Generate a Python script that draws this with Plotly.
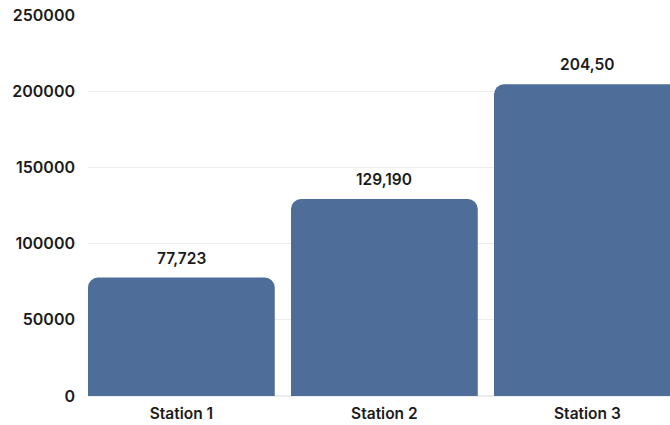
import plotly.graph_objects as go

# Station totals
stations = ["Station 1", "Station 2", "Station 3"]
totals = [77723, 129190, 204500]
total_labels = ["77,723", "129,190", "204,50"]
y_ticks = [0, 50000, 100000, 150000, 200000, 250000]

bar_color = "#4E6D98"
text_color = "#1B1B1B"
font_family = "Inter, 'Open Sans', sans-serif"

fig = go.Figure(
    go.Bar(
        x=stations,
        y=totals,
        marker=dict(color=bar_color, line=dict(width=0)),
        width=0.92,
        hoverinfo="skip",
    )
)

# value labels above each bar
for s, v, t in zip(stations, totals, total_labels):
    fig.add_annotation(
        x=s, y=v, text=t, showarrow=False,
        yanchor="bottom", yshift=8,
        font=dict(family=font_family, size=15.5, color=text_color, weight=600),
    )

fig.update_layout(
    width=670,
    height=425,
    margin=dict(l=88, r=0, t=15, b=29),
    paper_bgcolor="white",
    plot_bgcolor="white",
    barcornerradius=10,
    showlegend=False,
    font=dict(family=font_family, color=text_color),
)

fig.update_xaxes(
    range=[-0.46, 2.407],
    showgrid=False,
    showline=False,
    ticks="",
    ticklabelstandoff=6,
    tickfont=dict(family=font_family, size=15.5, color=text_color, weight=600),
)

fig.update_yaxes(
    range=[0, 250000],
    tickvals=y_ticks,
    ticktext=[str(v) for v in y_ticks],
    showgrid=True,
    gridcolor="#EDEDED",
    gridwidth=1,
    zeroline=True,
    zerolinecolor="#EDEDED",
    showline=False,
    ticks="",
    ticklabelstandoff=12,
    tickfont=dict(family=font_family, size=16, color=text_color, weight=600),
)

fig.write_html("out.html")
